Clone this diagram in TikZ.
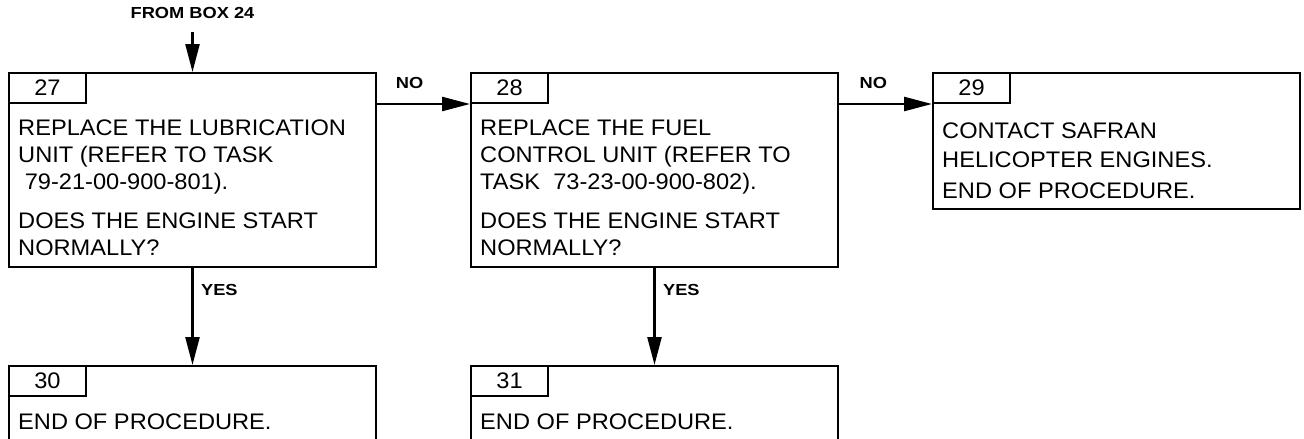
\documentclass[tikz,border=0pt]{standalone}
\usepackage{fontspec}
\setmainfont{Liberation Sans}[FakeStretch=1.05]
\newfontfamily\lblfont{Liberation Sans}[FakeStretch=1.14]
\usetikzlibrary{positioning,arrows.meta}
\begin{document}
\begin{tikzpicture}[
  x=1pt, y=-1pt,
  every node/.style={font=\fontsize{22.5}{27}\selectfont},
  box/.style={draw, line width=2pt, anchor=north west, minimum width=367pt, inner sep=0pt},
  tab/.style={draw, line width=2pt, anchor=north west, minimum width=77pt, minimum height=30pt, inner sep=0pt},
  body/.style={align=left, inner sep=0pt},
  lbl/.style={font=\lblfont\bfseries\fontsize{16}{18}\selectfont},
  arr/.style={line width=2.5pt, -{Triangle[length=28pt,width=14pt]}}
]
\useasboundingbox (0,0) rectangle (1304,439);

\node[box, minimum height=194pt] (b27) at (8,72) {};
\node[tab] (n27) at (b27.north west) {27};
\node[body, below right=16pt and 10pt of n27.south west] (t27)
  {REPLACE THE LUBRICATION\\UNIT (REFER TO TASK\\\ 79-21-00-900-801).\\[12pt]DOES THE ENGINE START\\NORMALLY?};

\node[box, minimum height=194pt] (b28) at (470,72) {};
\node[tab] (n28) at (b28.north west) {28};
\node[body, below right=16pt and 10pt of n28.south west] (t28)
  {REPLACE THE FUEL\\CONTROL UNIT (REFER TO\\TASK\ \ 73-23-00-900-802).\\[12pt]DOES THE ENGINE START\\NORMALLY?};

\node[box, minimum height=136pt] (b29) at (932,72) {};
\node[tab] (n29) at (b29.north west) {29};
\node[body, below right=19pt and 10pt of n29.south west] (t29)
  {CONTACT SAFRAN\\[2pt]HELICOPTER ENGINES.\\[4pt]END OF PROCEDURE.};

\node[box, minimum height=76pt] (b30) at (8,365) {};
\node[tab] (n30) at (b30.north west) {30};
\node[body, below right=17pt and 10pt of n30.south west] (t30) {END OF PROCEDURE.};

\node[box, minimum height=76pt] (b31) at (470,365) {};
\node[tab] (n31) at (b31.north west) {31};
\node[body, below right=17pt and 10pt of n31.south west] (t31) {END OF PROCEDURE.};

\node[lbl, inner ysep=13pt, above=40.5pt of b27] (from) {FROM BOX 24};
\draw[arr] (from.south) -- (b27.north);

\draw[arr] (b27.east |- n27.south) -- node[lbl, pos=0.35, above=11pt] {NO} (b28.west |- n27.south);
\draw[arr] (b28.east |- n28.south) -- node[lbl, pos=0.37, above=11pt] {NO} (b29.west |- n28.south);
\draw[arr] (b27.south) -- node[lbl, pos=0.23, right=4pt] {YES} (b30.north);
\draw[arr] (b28.south) -- node[lbl, pos=0.23, right=4pt] {YES} (b31.north);
\end{tikzpicture}
\end{document}
